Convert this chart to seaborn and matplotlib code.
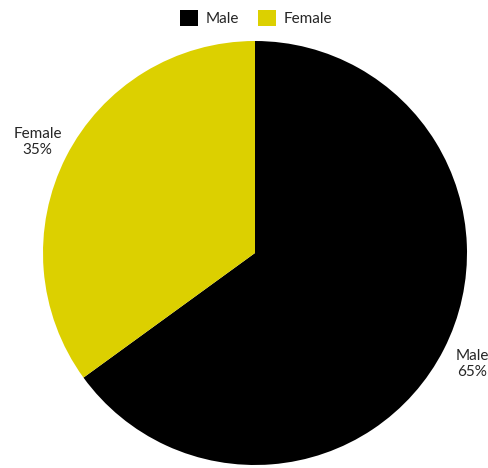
import matplotlib
matplotlib.use("Agg")
import matplotlib.pyplot as plt
from matplotlib.patches import Patch
import seaborn as sns

categories = ["Male", "Female"]
shares = [65, 35]
colors = ["#000000", "#DCD000"]

sns.set_theme(style="white")
plt.rcParams["font.family"] = ["Lato", "DejaVu Sans"]

fig = plt.figure(figsize=(4.88, 4.68), dpi=100)
W, H = 488, 468
cx, cy, r = 255, 253, 212
ax = fig.add_axes([(cx - r) / W, (H - cy - r) / H, 2 * r / W, 2 * r / H])

labels = [f"{c}\n{v}%" for c, v in zip(categories, shares)]
wedges, texts = ax.pie(
    shares,
    labels=labels,
    colors=colors,
    startangle=90,
    counterclock=False,
    labeldistance=1.15,
    radius=1.0,
    wedgeprops={"linewidth": 0, "edgecolor": "none"},
    textprops={"fontsize": 11, "color": "#262626"},
)
for t in texts:
    t.set_ha("center")
    t.set_va("center")
    t.set_multialignment("center")
ax.set_xlim(-1, 1)
ax.set_ylim(-1, 1)
ax.set_aspect("equal")
ax.axis("off")

handles = [Patch(facecolor=c, edgecolor="none") for c in colors]
fig.legend(
    handles,
    categories,
    loc="center",
    bbox_to_anchor=(256 / W, 1 - 18 / H),
    ncol=2,
    frameon=False,
    fontsize=11,
    handlelength=1.2,
    handleheight=1.2,
    handletextpad=0.5,
    columnspacing=1.2,
    labelcolor="#262626",
)

fig.savefig("out.png", dpi=100)
